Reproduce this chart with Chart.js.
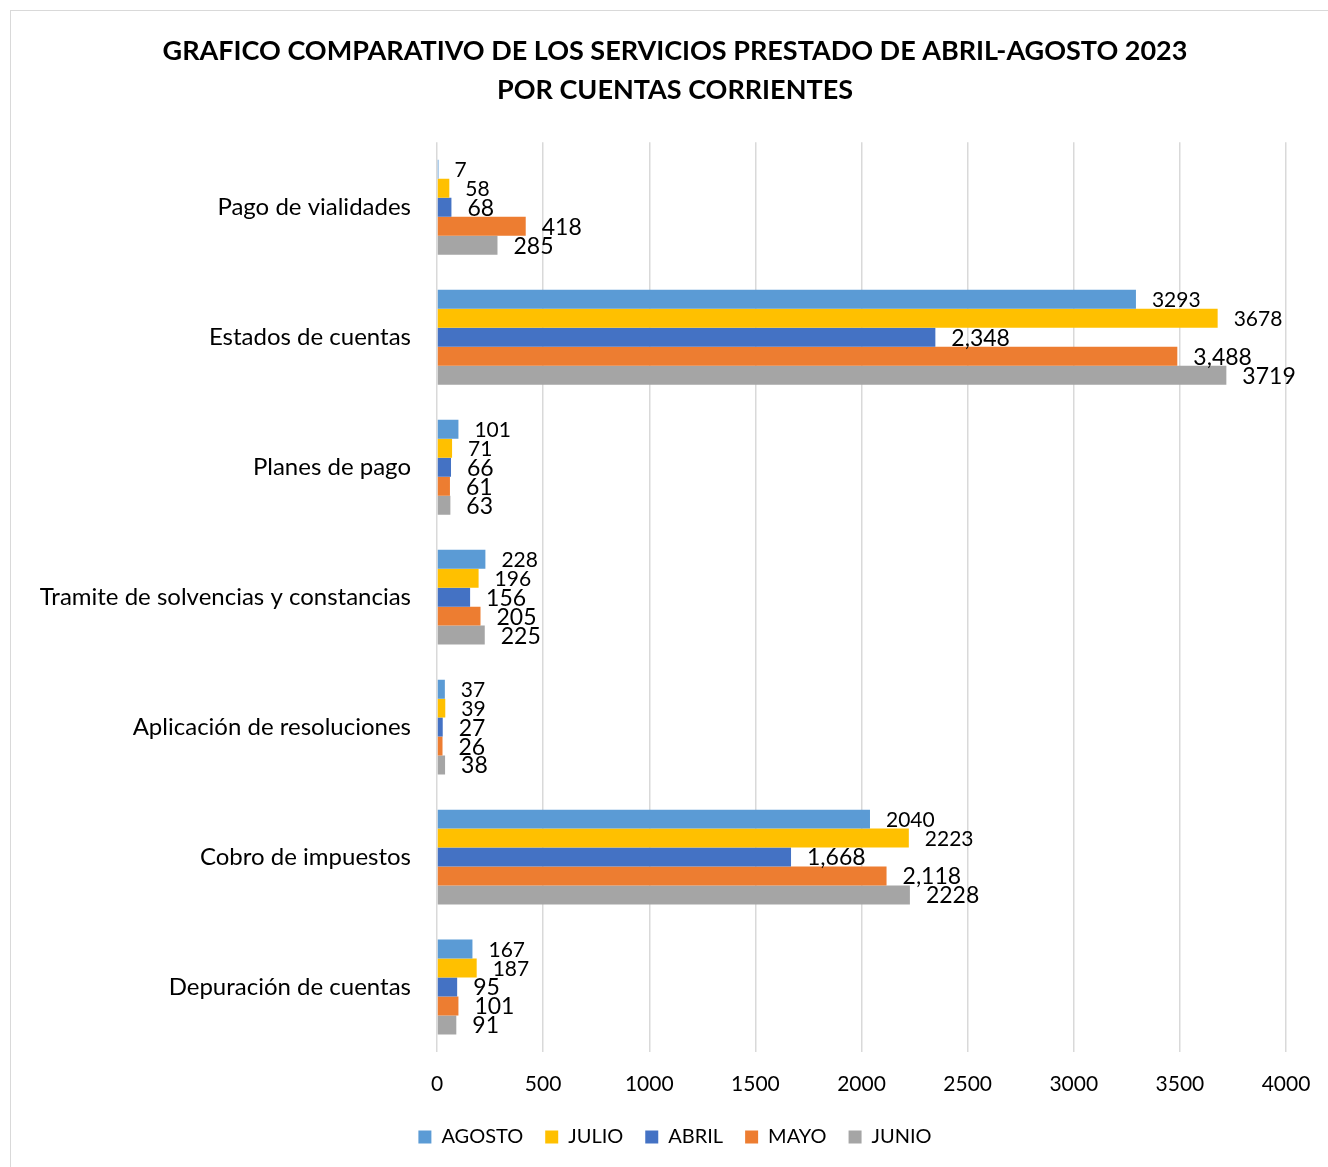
<!DOCTYPE html>
<html>
<head>
<meta charset="utf-8">
<script src="https://cdn.jsdelivr.net/npm/chart.js"></script>
<style>
  html, body { margin: 0; padding: 0; background: #fff; overflow: hidden; }
  #box {
    position: absolute; left: 10px; top: 10px;
    width: 1340px; height: 1200px;
    border: 1px solid #d9d9d9;
  }
  #box canvas { position: absolute; left: 0; top: 0; }
</style>
</head>
<body>
<div id="box"><canvas id="chart" width="1330" height="1156"></canvas></div>
<script>
// data
const categories = [
  'Pago de vialidades',
  'Estados de cuentas',
  'Planes de pago',
  'Tramite de solvencias y constancias',
  'Aplicación de resoluciones',
  'Cobro de impuestos',
  'Depuración de cuentas'
];
const seriesNames = ['AGOSTO', 'JULIO', 'ABRIL', 'MAYO', 'JUNIO'];
const agosto = [7, 3293, 101, 228, 37, 2040, 167];
const julio  = [58, 3678, 71, 196, 39, 2223, 187];
const abril  = [68, 2348, 66, 156, 27, 1668, 95];
const mayo   = [418, 3488, 61, 205, 26, 2118, 101];
const junio  = [285, 3719, 63, 225, 38, 2228, 91];
const xTicks = [0, 500, 1000, 1500, 2000, 2500, 3000, 3500, 4000];

// which series show thousands separators / bigger labels (as in the source)
const commaSeries = ['ABRIL', 'MAYO'];
const bigLabelSeries = ['ABRIL', 'MAYO', 'JUNIO'];

const colors = ['#5B9BD5', '#FFC000', '#4472C4', '#ED7D31', '#A5A5A5'];
const values = [agosto, julio, abril, mayo, junio];

const FONT = 'Lato, "Open Sans", sans-serif';

const barLabels = {
  id: 'barLabels',
  afterDatasetsDraw(chart) {
    const ctx = chart.ctx;
    ctx.save();
    ctx.fillStyle = '#000';
    ctx.textAlign = 'left';
    ctx.textBaseline = 'middle';
    chart.data.datasets.forEach((ds, i) => {
      const meta = chart.getDatasetMeta(i);
      const size = bigLabelSeries.includes(ds.label) ? 23 : 21;
      ctx.font = size + 'px ' + FONT;
      meta.data.forEach((bar, j) => {
        const v = ds.data[j];
        const txt = commaSeries.includes(ds.label) ? v.toLocaleString('en-US') : String(v);
        ctx.fillText(txt, bar.x + 16, bar.y + 1);
      });
    });
    ctx.restore();
  }
};

new Chart(document.getElementById('chart'), {
  type: 'bar',
  data: {
    labels: categories,
    datasets: seriesNames.map((name, i) => ({
      label: name,
      data: values[i],
      backgroundColor: colors[i],
      barPercentage: 1.0,
      categoryPercentage: 0.73
    }))
  },
  options: {
    indexAxis: 'y',
    responsive: false,
    animation: false,
    layout: { padding: { left: 0, right: 2, top: 0, bottom: 10 } },
    scales: {
      x: {
        min: 0,
        max: 4000,
        afterBuildTicks: (scale) => { scale.ticks = xTicks.map(v => ({ value: v })); },
        afterFit: (scale) => { scale.height = 53; scale.paddingRight = 55; },
        grid: { color: '#d9d9d9', lineWidth: 1.5, drawTicks: false },
        border: { display: false },
        ticks: {
          color: '#000', font: { family: FONT, size: 21 }, padding: 20, maxRotation: 0,
          callback: (v) => String(v)
        }
      },
      y: {
        afterFit: (scale) => { scale.width = 426; },
        grid: { display: false, drawTicks: false },
        border: { display: false },
        ticks: { color: '#000', font: { family: FONT, size: 24 }, padding: 26 }
      }
    },
    plugins: {
      title: {
        display: true,
        text: ['GRAFICO COMPARATIVO DE LOS SERVICIOS PRESTADO DE ABRIL-AGOSTO 2023', 'POR CUENTAS CORRIENTES'],
        color: '#000',
        font: { family: FONT, size: 27, weight: 'bold', lineHeight: 1.45 },
        padding: { top: 21, bottom: 32 }
      },
      legend: {
        position: 'bottom',
        labels: {
          color: '#000',
          font: { family: FONT, size: 20 },
          boxWidth: 13,
          boxHeight: 13,
          padding: 22
        }
      },
      tooltip: { enabled: false }
    }
  },
  plugins: [barLabels]
});
</script>
</body>
</html>
